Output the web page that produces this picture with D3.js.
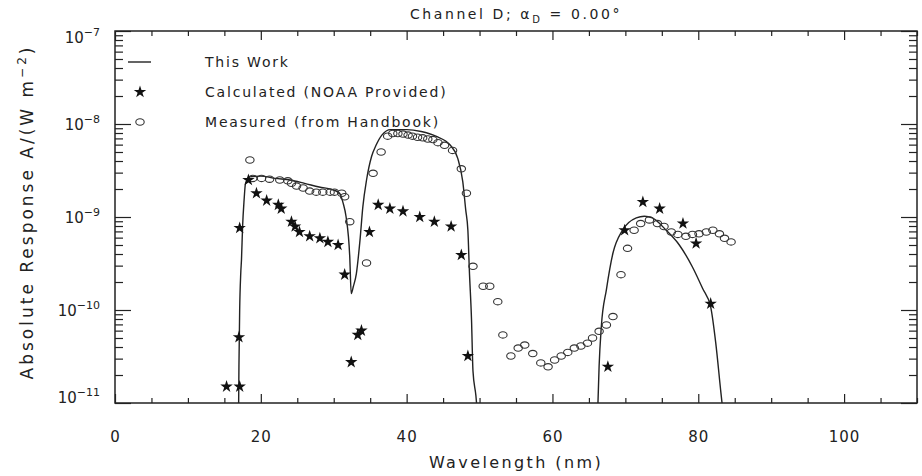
<!DOCTYPE html>
<html>
<head>
<meta charset="utf-8">
<script src="https://cdn.jsdelivr.net/npm/d3@7"></script>
<style>
	body { margin: 0; background: #fff; }
	text { font-family: "DejaVu Sans", sans-serif; fill: #222; }
</style>
</head>
<body>
<div id="chart"></div>
<script>
// This Work (null = curve goes below the plot)
var workLambda = [16.95, 17.0, 17.1, 17.25, 17.35, 17.5, 17.7, 17.9, 18.5, 20, 22, 24, 26, 28, 30, 30.8, 31.3, 31.7, 32.2, 32.4,
	32.7, 33.1, 33.6, 34.0, 34.5, 35.2, 35.8, 36.6, 37.8, 40, 42, 44, 46.0, 47.0, 47.7, 48.1, 48.4, 48.6, 48.9, 49.1, 49.5, 49.7,
	58,
	66.2, 66.4, 66.7, 67.4, 68.3, 69.6, 71.5, 72.6, 73.7, 75.6, 77.4, 79.2, 80.6, 81.7, 82.4, 83.1, 83.4];
var workValue = [7.9e-12, 2.5e-11, 1.0e-10, 2.5e-10, 3.5e-10, 7.9e-10, 1.5e-9, 2.3e-9, 2.7e-9, 2.75e-9, 2.6e-9, 2.5e-9, 2.3e-9, 2.1e-9, 1.95e-9, 1.8e-9, 1.4e-9, 1.0e-9, 3.7e-10, 1.5e-10,
	1.8e-10, 2.45e-10, 5.6e-10, 1.3e-9, 2.5e-9, 4.5e-9, 5.9e-9, 7.6e-9, 8.7e-9, 8.7e-9, 8.3e-9, 7.4e-9, 5.9e-9, 4.3e-9, 2.4e-9, 1.2e-9, 7.2e-10, 2.7e-10, 7.8e-11, 2.2e-11, 1.2e-11, 7.9e-12,
	null,
	7.9e-12, 2.5e-11, 6.6e-11, 1.66e-10, 4.1e-10, 7.2e-10, 9.8e-10, 1.02e-9, 9.8e-10, 7.2e-10, 5.0e-10, 2.9e-10, 1.7e-10, 1.08e-10, 4.4e-11, 1.3e-11, 7.9e-12];

// Calculated (NOAA Provided)
var noaaLambda = [15.3, 17.1, 17.0, 17.1, 18.3, 19.4, 20.8, 22.4, 22.8, 24.2, 24.7, 25.3, 26.7, 28.1, 29.2, 30.6, 31.5, 32.4, 33.3, 33.8,
	34.9, 36.1, 37.7, 39.5, 41.8, 43.8, 46.1, 47.5, 48.4, 67.6, 69.9, 72.4, 74.7, 77.9, 79.7, 81.7];
var noaaValue = [1.5e-11, 1.5e-11, 5.1e-11, 7.6e-10, 2.5e-9, 1.8e-9, 1.5e-9, 1.35e-9, 1.23e-9, 8.9e-10, 7.9e-10, 6.9e-10, 6.2e-10, 5.9e-10, 5.4e-10, 5.0e-10, 2.4e-10, 2.75e-11, 5.4e-11, 6.0e-11,
	6.9e-10, 1.35e-9, 1.23e-9, 1.15e-9, 1.0e-9, 8.9e-10, 7.9e-10, 3.9e-10, 3.2e-11, 2.45e-11, 7.2e-10, 1.45e-9, 1.23e-9, 8.5e-10, 5.2e-10, 1.17e-10];

// Measured (from Handbook)
var measLambda = [18.5, 18.9, 20.1, 21.2, 22.6, 23.7, 24.2, 24.9, 25.8, 26.7, 27.6, 28.5, 29.5, 30.1, 31.1, 31.5,
	32.2, 34.5, 35.4, 36.5, 37.4, 38.1, 38.8, 39.5, 40.2, 40.8, 41.5, 42.2, 42.9, 43.6, 44.3, 45.2, 46.3, 47.5, 48.2,
	49.1, 50.5, 51.4, 52.5, 53.2, 54.3, 55.3, 56.2, 57.3, 58.4, 59.4, 60.3, 61.2, 62.1, 63.0, 63.9, 64.8, 65.5, 66.4, 67.4, 68.3,
	69.4, 70.3, 71.2, 72.1, 73.3, 74.4, 75.3, 76.3, 77.2, 78.3, 79.2, 80.1, 81.1, 82.0, 82.9, 83.6, 84.5];
var measValue = [4.1e-9, 2.6e-9, 2.6e-9, 2.55e-9, 2.5e-9, 2.45e-9, 2.3e-9, 2.15e-9, 2.05e-9, 1.9e-9, 1.85e-9, 1.85e-9, 1.85e-9, 1.85e-9, 1.8e-9, 1.65e-9,
	8.9e-10, 3.2e-10, 2.95e-9, 5.0e-9, 7.4e-9, 7.9e-9, 7.9e-9, 7.8e-9, 7.6e-9, 7.4e-9, 7.2e-9, 7.1e-9, 6.9e-9, 6.8e-9, 6.3e-9, 5.9e-9, 5.2e-9, 3.3e-9, 1.8e-9,
	2.95e-10, 1.8e-10, 1.8e-10, 1.23e-10, 5.4e-11, 3.2e-11, 3.9e-11, 4.2e-11, 3.4e-11, 2.7e-11, 2.45e-11, 2.9e-11, 3.2e-11, 3.5e-11, 3.9e-11, 4.1e-11, 4.4e-11, 5.0e-11, 5.9e-11, 6.9e-11, 8.5e-11,
	2.4e-10, 4.6e-10, 7.2e-10, 8.5e-10, 9.3e-10, 8.5e-10, 7.9e-10, 6.9e-10, 6.5e-10, 6.2e-10, 6.5e-10, 6.6e-10, 6.9e-10, 7.2e-10, 6.6e-10, 5.9e-10, 5.4e-10];

var xMajor = [0, 20, 40, 60, 80, 100];
var yExponents = [-11, -10, -9, -8, -7];
var legendLabels = ["This Work", "Calculated (NOAA Provided)", "Measured (from Handbook)"];

var width = 922,
	height = 476;
// plot frame (note: "top" is reserved on window)
var pLeft = 115, pRight = 917,
	pTop = 31, pBottom = 403;

var svg = d3.select("#chart")
	.append("svg")
	.attr("width", width)
	.attr("height", height);

var x = d3.scaleLinear().domain([0, 110]).range([pLeft, pRight]);
var y = d3.scaleLog().domain([1e-11, 1e-7]).range([pBottom, pTop]);

var xMinor = d3.range(0, 111, 5).filter(function(d) { return d % 20 != 0; });
var yMajor = yExponents.map(function(e) { return Math.pow(10, e); });
var yMinor = [];
yExponents.slice(0, -1).forEach(function(e) {
	for (var k = 2; k < 10; k++) yMinor.push(k * Math.pow(10, e));
});

function tidy(g) {
	g.select(".domain").remove();
	g.selectAll(".tick line").attr("stroke", "#222").attr("stroke-width", 1.2);
}

// axes (ticks point inward)
svg.append("g").attr("transform", "translate(0," + pBottom + ")")
	.call(d3.axisBottom(x).tickValues(xMajor).tickSize(-9).tickPadding(28).tickFormat(d3.format("d")))
	.call(tidy)
	.selectAll("text").style("font-size", "15px").style("letter-spacing", "1px").attr("fill", "#222");
svg.append("g").attr("transform", "translate(0," + pBottom + ")")
	.call(d3.axisBottom(x).tickValues(xMinor).tickSize(-5).tickFormat(""))
	.call(tidy);
svg.append("g").attr("transform", "translate(0," + pTop + ")")
	.call(d3.axisTop(x).tickValues(xMajor).tickSize(-9).tickFormat(""))
	.call(tidy);
svg.append("g").attr("transform", "translate(0," + pTop + ")")
	.call(d3.axisTop(x).tickValues(xMinor).tickSize(-5).tickFormat(""))
	.call(tidy);

svg.append("g").attr("transform", "translate(" + pLeft + ",0)")
	.call(d3.axisLeft(y).tickValues(yMajor).tickSize(-16).tickFormat(""))
	.call(tidy);
svg.append("g").attr("transform", "translate(" + pLeft + ",0)")
	.call(d3.axisLeft(y).tickValues(yMinor).tickSize(-8).tickFormat(""))
	.call(tidy);
svg.append("g").attr("transform", "translate(" + pRight + ",0)")
	.call(d3.axisRight(y).tickValues(yMajor).tickSize(-16).tickFormat(""))
	.call(tidy);
svg.append("g").attr("transform", "translate(" + pRight + ",0)")
	.call(d3.axisRight(y).tickValues(yMinor).tickSize(-8).tickFormat(""))
	.call(tidy);

// frame
svg.append("rect")
	.attr("x", pLeft).attr("y", pTop)
	.attr("width", pRight - pLeft).attr("height", pBottom - pTop)
	.attr("fill", "none").attr("stroke", "#222").attr("stroke-width", 1.5);

// y tick labels 10^n
var ylab = svg.append("g").selectAll("text")
	.data(yExponents)
	.enter().append("text")
	.attr("x", 100)
	.attr("y", function(e) {
		var p = y(Math.pow(10, e)) + 6;
		return Math.min(Math.max(p, pTop + 12), pBottom);
	})
	.style("text-anchor", "end")
	.style("font-size", "15px");
ylab.append("tspan").text("10");
ylab.append("tspan").attr("dy", -7).style("font-size", "11px")
	.text(function(e) { return "\u2212" + (-e); });

// title
var title = svg.append("text")
	.attr("x", (pLeft + pRight) / 2)
	.attr("y", 19)
	.style("text-anchor", "middle")
	.style("font-size", "14px")
	.style("letter-spacing", "2.6px");
title.append("tspan").text("Channel D; \u03b1");
title.append("tspan").attr("dy", 4).style("font-size", "10px").text("D");
title.append("tspan").attr("dy", -4).text(" = 0.00\u00b0");

// axis titles
svg.append("text")
	.attr("x", (pLeft + pRight) / 2)
	.attr("y", 468)
	.style("text-anchor", "middle")
	.style("font-size", "16px")
	.style("letter-spacing", "2.4px")
	.text("Wavelength (nm)");
var ytitle = svg.append("text")
	.attr("transform", "rotate(-90)")
	.attr("x", -212)
	.attr("y", 33)
	.style("text-anchor", "middle")
	.style("font-size", "17px")
	.style("letter-spacing", "3px");
ytitle.append("tspan").text("Absolute Response A/(W m");
ytitle.append("tspan").attr("dy", -7).style("font-size", "12px").text("\u22122");
ytitle.append("tspan").attr("dy", 7).text(")");

// clip
svg.append("clipPath").attr("id", "plotclip")
	.append("rect")
	.attr("x", pLeft).attr("y", pTop)
	.attr("width", pRight - pLeft).attr("height", pBottom - pTop);

var plot = svg.append("g").attr("clip-path", "url(#plotclip)");

// This Work curve
var workData = workLambda.map(function(d, i) { return {l: d, v: workValue[i]}; });
var line = d3.line()
	.defined(function(d) { return d.v != null; })
	.x(function(d) { return x(d.l); })
	.y(function(d) { return y(d.v); })
	.curve(d3.curveMonotoneX);
plot.append("path")
	.datum(workData)
	.attr("d", line)
	.attr("fill", "none")
	.attr("stroke", "#222")
	.attr("stroke-width", 1.4);

// Measured circles
var measData = measLambda.map(function(d, i) { return {l: d, v: measValue[i]}; });
plot.append("g").selectAll("ellipse")
	.data(measData)
	.enter().append("ellipse")
	.attr("cx", function(d) { return x(d.l); })
	.attr("cy", function(d) { return y(d.v); })
	.attr("rx", 4.2).attr("ry", 3.2)
	.attr("fill", "none")
	.attr("stroke", "#333")
	.attr("stroke-width", 1.1);

// Calculated stars
var star = d3.symbol().type(d3.symbolStar).size(48);
var noaaData = noaaLambda.map(function(d, i) { return {l: d, v: noaaValue[i]}; });
plot.append("g").selectAll("path")
	.data(noaaData)
	.enter().append("path")
	.attr("d", star)
	.attr("transform", function(d) { return "translate(" + x(d.l) + "," + y(d.v) + ")"; })
	.attr("fill", "#111");

// legend
var legY = [62, 92, 122];
svg.append("line")
	.attr("x1", 128).attr("x2", 151)
	.attr("y1", legY[0]).attr("y2", legY[0])
	.attr("stroke", "#222").attr("stroke-width", 1.4);
svg.append("path")
	.attr("d", star)
	.attr("transform", "translate(140," + legY[1] + ")")
	.attr("fill", "#111");
svg.append("ellipse")
	.attr("cx", 140).attr("cy", legY[2])
	.attr("rx", 4.2).attr("ry", 3.2)
	.attr("fill", "none").attr("stroke", "#333").attr("stroke-width", 1.1);
svg.append("g").selectAll("text")
	.data(legendLabels)
	.enter().append("text")
	.attr("x", 205)
	.attr("y", function(d, i) { return legY[i] + 5; })
	.style("font-size", "14px")
	.style("letter-spacing", "1.8px")
	.text(function(d) { return d; });
</script>
</body>
</html>
